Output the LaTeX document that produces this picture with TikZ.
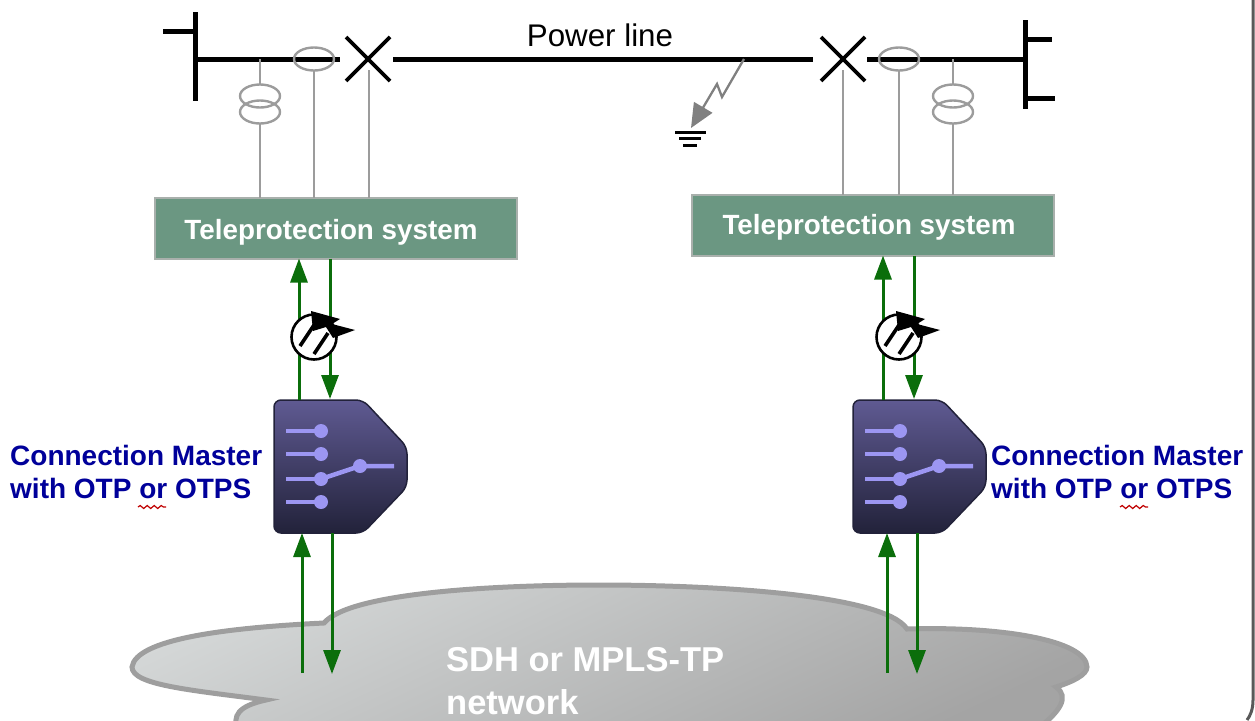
\documentclass[tikz,border=0pt]{standalone}
\usepackage{fontspec}
\setmainfont{Liberation Sans}
\usetikzlibrary{arrows.meta,positioning,decorations.pathmorphing,shapes.geometric}

\definecolor{boxgreen}{HTML}{6B9782}
\definecolor{boxedge}{HTML}{A9B0AC}
\definecolor{wiregray}{HTML}{9C9C9C}
\definecolor{flowgreen}{HTML}{0B6E0B}
\definecolor{labelblue}{HTML}{00009A}
\definecolor{contact}{HTML}{9C96F2}
\definecolor{mastertop}{HTML}{5F5A92}
\definecolor{masterbottom}{HTML}{22223A}
\definecolor{cloudtop}{HTML}{D4D7D7}
\definecolor{cloudbottom}{HTML}{A4A4A4}

\tikzset{
	busline/.style = {line width=5pt, black},
	breaker/.style = {line width=3.6pt, black},
	wire/.style = {line width=2.3pt, wiregray},
	coil/.style = {draw=wiregray, line width=2.4pt, ellipse, minimum width=40pt, minimum height=23pt, inner sep=0pt, outer sep=0pt},
	tpbox/.style = {draw=boxedge, line width=2pt, fill=boxgreen, text=white, minimum width=362pt, minimum height=61pt, font=\fontsize{27.8}{32}\selectfont\bfseries, inner sep=0pt, outer sep=0pt},
	flow/.style = {line width=3pt, flowgreen, -{Triangle[length=24pt,width=17pt]}},
	masterlabel/.style = {text=labelblue, align=left, anchor=north west, inner sep=0pt, font=\fontsize{28}{33.5}\selectfont\bfseries},
	cloudlabel/.style = {text=white, align=left, anchor=west, inner sep=0pt, font=\fontsize{34.5}{43}\selectfont\bfseries},
	lead/.style = {line width=4.5pt, contact},
	master/.pic = {
		\draw[draw=masterbottom, line width=1.5pt, rounded corners=7pt, top color=mastertop, bottom color=masterbottom]
			(0,0) -- (89,0) -- (133,47) -- (133,87) -- (89,133) -- (0,133) -- cycle;
		\foreach \y in {31,54,79,102} {
			\draw[lead] (12,\y) -- (47,\y);
			\fill[contact] (47,\y) circle (7pt);
		}
		\draw[lead] (47,79) -- (86,66) -- (120,66);
		\fill[contact] (86,66) circle (7pt);
	},
	delayclock/.pic = {
		\draw[black, line width=2.6pt, fill=white] (0,0) circle (22.5pt);
		\draw[black, line width=3.6pt] (-14,9) -- (0,-12);
		\draw[black, line width=3.6pt] (0,17) -- (14,-4);
		\fill[black] (-3,-26) -- (26,-18) -- (18,-13) -- (41,-7) -- (19,1) -- (12,-10) -- (-1,-6) -- cycle;
	}
}

\begin{document}
\begin{tikzpicture}[x=1pt, y=-1pt]
	\useasboundingbox (0,0) rectangle (1255,720);
	\clip (0,0) rectangle (1255,720);

	% frame edge
	\draw[black!65, line width=3pt] (1253,0) -- (1253,700) .. controls (1253,710) and (1250,716) .. (1247,720);

	% cloud
	\draw[draw=black!38, line width=5pt, top color=cloudtop, bottom color=cloudbottom, shading angle=25]
		(132,667) .. controls (136,640) and (220,628) .. (324,623)
		.. controls (350,592) and (500,585) .. (598,585)
		.. controls (720,585) and (885,595) .. (907,629)
		.. controls (1000,626) and (1086,640) .. (1087,667)
		.. controls (1087,675) and (1072,682) .. (1056,687)
		.. controls (1070,697) and (1060,712) .. (1036,730)
		-- (238,730)
		.. controls (232,716) and (238,706) .. (266,700)
		.. controls (190,690) and (132,685) .. (132,667) -- cycle;
	\node[cloudlabel] (net) at (446,681) {SDH or MPLS-TP\\network};

	% power line
	\coordinate (busl) at (195,59);
	\coordinate (busr) at (1025,59);
	\node[coordinate] (brk1) at (368,59) {};
	\node[coordinate] (brk2) at (843,59) {};
	\coordinate (brk1w) at (369,70);
	\coordinate (brk2w) at (843,70);
	\draw[busline] (195,12) -- (195,101);
	\draw[busline] (163,31) -- (195,31);
	\draw[busline] (1025,20) -- (1025,109);
	\draw[busline] (1025,39) -- (1052,39);
	\draw[busline] (1025,98) -- (1055,98);
	\draw[busline] (busl) -- ([xshift=-28pt]brk1);
	\draw[busline] ([xshift=25pt]brk1) -- ([xshift=-30pt]brk2);
	\draw[busline] ([xshift=24pt]brk2) -- (busr);
	\foreach \b in {brk1,brk2} {
		\draw[breaker] ([shift={(-22,-22)}]\b) -- ([shift={(22,22)}]\b);
		\draw[breaker] ([shift={(-22,22)}]\b) -- ([shift={(22,-22)}]\b);
	}
	\node at (600,35) [inner sep=0pt, font=\fontsize{31.3}{36}\selectfont] (linename) {Power line};

	% instrument transformers
	\node[coil] (ct1) at (314,59) {};
	\node[coil] (ct2) at (899,59) {};
	\node[coil] (vt1a) at (260,96) {};
	\node[coil] (vt1b) at (260,112) {};
	\node[coil] (vt2a) at (953,96) {};
	\node[coil] (vt2b) at (953,112) {};

	% teleprotection
	\node[tpbox] (tp1) at (336,228) {\raisebox{-11pt}[0pt][0pt]{Teleprotection system}\hspace*{10pt}};
	\node[tpbox] (tp2) at (873,225) {\raisebox{-9pt}[0pt][0pt]{Teleprotection system}\hspace*{8pt}};

	\draw[wire] (vt1a.north |- busl) -- (vt1a.north);
	\draw[wire] (vt1b.south) -- (vt1b.south |- tp1.north);
	\draw[wire] (ct1.south) -- (ct1.south |- tp1.north);
	\draw[wire] (brk1w) -- (brk1w |- tp1.north);
	\draw[wire] (brk2w) -- (brk2w |- tp2.north);
	\draw[wire] (ct2.south) -- (ct2.south |- tp2.north);
	\draw[wire] (vt2a.north |- busr) -- (vt2a.north);
	\draw[wire] (vt2b.south) -- (vt2b.south |- tp2.north);

	% fault
	\coordinate (fault) at (744,59);
	\coordinate (earth) at (691,128);
	\draw[line width=2.3pt, black!50, -{Triangle[length=24pt,width=21pt]}] (fault) -- (722,97) -- (717,84) -- (earth);
	\draw[line width=3pt] (675,132) -- (706,132);
	\draw[line width=3pt] (679,138) -- (701,138);
	\draw[line width=3pt] (683,145) -- (697,145);

	% connection masters
	\pic (cma) at (274,400) {master};
	\pic (cmb) at (853,400) {master};
	\foreach \cm/\tp/\xa/\xb/\xc/\xd in {cma/tp1/299/330/302/332, cmb/tp2/883/914/887/917} {
		\coordinate (\cm-upt) at (\xa,400);
		\coordinate (\cm-dnt) at (\xb,399);
		\coordinate (\cm-upb) at (\xc,673);
		\coordinate (\cm-dnb) at (\xd,533);
		\draw[flow] (\cm-upt) -- (\cm-upt |- \tp.south);
		\draw[flow] (\cm-dnt |- \tp.south) -- (\cm-dnt);
		\draw[flow] (\cm-upb) -- (\xc,533);
		\draw[flow] (\cm-dnb) -- (\xd,674);
	}
	\pic at (314,337) {delayclock};
	\pic at (899,337) {delayclock};

	% labels
	\node[masterlabel] (lab1) at (10,445) {Connection Master\\with OTP or OTPS};
	\node[masterlabel] (lab2) at (991,445) {Connection Master\\with OTP or OTPS};
	\draw[red!75!black, line width=1.2pt, decorate, decoration={snake, amplitude=1.5pt, segment length=7pt}] (138,507) -- (166,507);
	\draw[red!75!black, line width=1.2pt, decorate, decoration={snake, amplitude=1.5pt, segment length=7pt}] (1120,507) -- (1148,507);
\end{tikzpicture}
\end{document}
